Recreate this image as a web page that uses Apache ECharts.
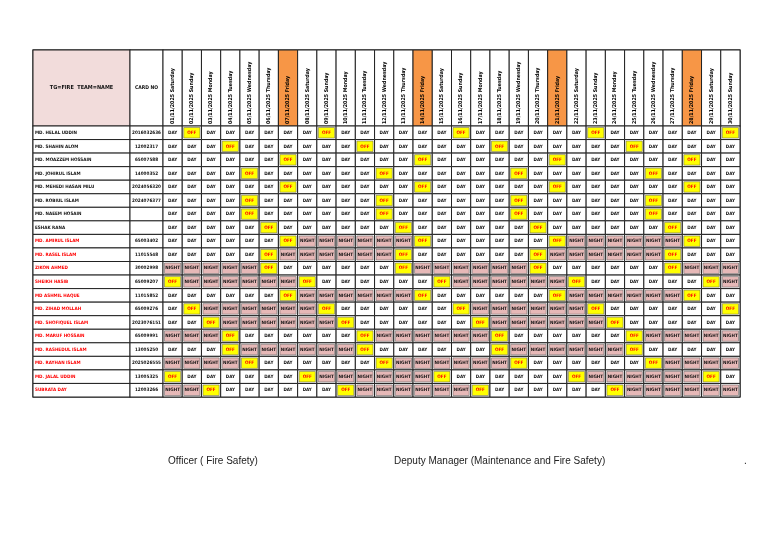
<!DOCTYPE html>
<html><head><meta charset="utf-8">
<script src="https://cdn.jsdelivr.net/npm/echarts@6/dist/echarts.min.js"></script>
<style>html,body{margin:0;padding:0;background:#fff}#c{width:768px;height:543px}</style>
</head><body><div id="c"></div>
<script>
const headerName = "TG=FIRE  TEAM=NAME";
const headerCard = "CARD NO";
const dates = ["01/11/2025 Saturday","02/11/2025 Sunday","03/11/2025 Monday","04/11/2025 Tuesday","05/11/2025 Wednesday","06/11/2025 Thursday","07/11/2025 Friday","08/11/2025 Saturday","09/11/2025 Sunday","10/11/2025 Monday","11/11/2025 Tuesday","12/11/2025 Wednesday","13/11/2025 Thursday","14/11/2025 Friday","15/11/2025 Saturday","16/11/2025 Sunday","17/11/2025 Monday","18/11/2025 Tuesday","19/11/2025 Wednesday","20/11/2025 Thursday","21/11/2025 Friday","22/11/2025 Saturday","23/11/2025 Sunday","24/11/2025 Monday","25/11/2025 Tuesday","26/11/2025 Wednesday","27/11/2025 Thursday","28/11/2025 Friday","29/11/2025 Saturday","30/11/2025 Sunday"];
const names = ["MD. HELAL UDDIN","MD. SHAHIN ALOM","MD. MOAZZEM HOSSAIN","MD. JOHIRUL ISLAM","MD. MEHEDI HASAN MILU","MD. ROBIUL ISLAM","MD. NAEEM HOSAIN","ESHAK RANA","MD. AMIRUL ISLAM","MD. RASEL ISLAM","ZIKON AHMED","SHEIKH HASIB","MD ASHMIL HAQUE","MD. ZIHAD MOLLAH","MD. SHOFIQUEL ISLAM","MD. MARUF HOSSAIN","MD. RASHEDUL ISLAM","MD. RAYHAN ISLAM","MD. JALAL UDDIN","SUBRATA DAY"];
const cards = ["2016032636","12002317","65007588","14000352","2024056320","2024076377","","","65003402","11015548","30002998","65009207","11015852","65009276","2023076151","65009991","13005250","2025026555","13005325","12003266"];
const redNames = [false,false,false,false,false,false,false,false,true,true,true,true,true,true,true,true,true,true,true,true];
const shifts = [
"DODDDDDDODDDDDDODDDDDDODDDDDDO",
"DDDODDDDDDODDDDDDODDDDDDODDDDD",
"DDDDDDODDDDDDODDDDDDODDDDDDODD",
"DDDDODDDDDDODDDDDDODDDDDDODDDD",
"DDDDDDODDDDDDODDDDDDODDDDDDODD",
"DDDDODDDDDDODDDDDDODDDDDDODDDD",
"DDDDODDDDDDODDDDDDODDDDDDODDDD",
"DDDDDODDDDDDODDDDDDODDDDDDODDD",
"DDDDDDONNNNNNODDDDDDONNNNNNODD",
"DDDDDONNNNNNODDDDDDONNNNNNODDD",
"NNNNNODDDDDDONNNNNNODDDDDDONNN",
"ONNNNNNODDDDDDONNNNNNODDDDDDON",
"DDDDDDONNNNNNODDDDDDONNNNNNODD",
"DONNNNNNODDDDDDONNNNNNODDDDDDO",
"DDONNNNNNODDDDDDONNNNNNODDDDDD",
"NNNODDDDDDONNNNNNODDDDDDONNNNN",
"DDDONNNNNNODDDDDDONNNNNNODDDDD",
"NNNNODDDDDDONNNNNNODDDDDDONNNN",
"ODDDDDDONNNNNNODDDDDDONNNNNNOD",
"NNODDDDDDONNNNNNODDDDDDONNNNNN"];
const shiftText = {D:"DAY",O:"OFF",N:"NIGHT"};
const footer = ["Officer ( Fire Safety)","Deputy Manager (Maintenance and Fire Safety)","."];

const F = "'DejaVu Sans Condensed','Liberation Sans Narrow',sans-serif";
const rowsIdx = names.map((_,i)=>i);
const colsIdx = dates.map((_,i)=>i);

function cell(params, api, fill, text, color, opts){
  opts = opts||{};
  const c = api.coord([api.value(0), api.value(1)]);
  const s = api.size([1,1]);
  const x = c[0]-s[0]/2, y = c[1]-s[1]/2;
  const children = [];
  if (opts.inset) {
    children.push({type:'rect',shape:{x:x,y:y,width:s[0],height:s[1]},style:{fill:'#fff',stroke:'#222',lineWidth:1}});
    children.push({type:'rect',shape:{x:x+1.5,y:y+1.5,width:s[0]-3,height:s[1]-3},style:{fill:fill,stroke:fill==='#fff'?null:'#555',lineWidth:0.5}});
  } else {
    children.push({type:'rect',shape:{x:x,y:y,width:s[0],height:s[1]},style:{fill:fill,stroke:'#222',lineWidth:1}});
  }
  const ts = {text:text,fill:color,font:opts.font||('bold 5px '+F),align:opts.align||'center',verticalAlign:'middle'};
  if (opts.rot) {
    children.push({type:'text',x:c[0],y:y+s[1]-2,rotation:Math.PI/2,style:Object.assign(ts,{align:'left'})});
  } else {
    children.push({type:'text',x:opts.align==='left'?x+2:c[0],y:c[1],style:ts});
  }
  return {type:'group',children:children};
}

const grids = [
 {left:33,width:97,top:50,height:76},
 {left:130,width:33,top:50,height:76},
 {left:163,width:577,top:50,height:76},
 {left:33,width:97,top:126,height:271},
 {left:130,width:33,top:126,height:271},
 {left:163,width:577,top:126,height:271}
];
const hid = {show:false};
const xAxes = [], yAxes = [];
const oneCat = ['h'];
[[oneCat,oneCat],[oneCat,oneCat],[colsIdx,oneCat],[oneCat,rowsIdx],[oneCat,rowsIdx],[colsIdx,rowsIdx]].forEach((p,i)=>{
  xAxes.push({type:'category',data:p[0],gridIndex:i,axisLine:hid,axisTick:hid,axisLabel:hid,splitLine:hid});
  yAxes.push({type:'category',data:p[1],gridIndex:i,inverse:true,axisLine:hid,axisTick:hid,axisLabel:hid,splitLine:hid});
});
const series = [];
series.push({type:'custom',xAxisIndex:0,yAxisIndex:0,data:[[0,0]],renderItem:(p,a)=>cell(p,a,'#f2dcdb',headerName,'#111',{font:'bold 5.5px '+F})});
series.push({type:'custom',xAxisIndex:1,yAxisIndex:1,data:[[0,0]],renderItem:(p,a)=>cell(p,a,'#fff',headerCard,'#111',{font:'bold 5px '+F})});
series.push({type:'custom',xAxisIndex:2,yAxisIndex:2,data:colsIdx.map(i=>[i,0]),renderItem:(p,a)=>{
  const i=a.value(0); const fri=dates[i].indexOf('Friday')>=0;
  return cell(p,a,fri?'#f79646':'#fff',dates[i],'#000',{rot:true,font:'bold 5.3px '+F});}});
series.push({type:'custom',xAxisIndex:3,yAxisIndex:3,data:rowsIdx.map(i=>[0,i]),renderItem:(p,a)=>{
  const i=a.value(1); return cell(p,a,'#fff',names[i],redNames[i]?'#ff0000':'#111',{align:'left',font:'bold 4.6px '+F});}});
series.push({type:'custom',xAxisIndex:4,yAxisIndex:4,data:rowsIdx.map(i=>[0,i]),renderItem:(p,a)=>{
  const i=a.value(1); return cell(p,a,'#fff',cards[i],'#111',{font:'bold 4.6px '+F});}});
const body=[]; shifts.forEach((r,ri)=>{for(let ci=0;ci<r.length;ci++) body.push([ci,ri]);});
series.push({type:'custom',xAxisIndex:5,yAxisIndex:5,data:body,renderItem:(p,a)=>{
  const ci=a.value(0), ri=a.value(1); const k=shifts[ri][ci];
  const fill = k==='O'?'#ffff00':(k==='N'?'#e6b8b7':'#fff');
  const col = k==='O'?'#ff0000':'#111';
  return cell(p,a,fill,shiftText[k],col,{inset:true,font:'bold 4.6px '+F});}});

const chart = echarts.init(document.getElementById('c'));
chart.setOption({
  animation:false,
  grid:grids.map(g=>Object.assign({show:true,borderColor:'#444',borderWidth:1.5,backgroundColor:'transparent'},g)),
  xAxis:xAxes, yAxis:yAxes, series:series,
  graphic:[
    {type:'text',left:168,top:456,style:{text:footer[0],font:'10px "Liberation Sans",Arial,sans-serif',fill:'#222'}},
    {type:'text',left:394,top:456,style:{text:footer[1],font:'10px "Liberation Sans",Arial,sans-serif',fill:'#222'}},
    {type:'text',left:744,top:456,style:{text:footer[2],font:'10px "Liberation Sans",Arial,sans-serif',fill:'#222'}}
  ]
});
</script></body></html>
